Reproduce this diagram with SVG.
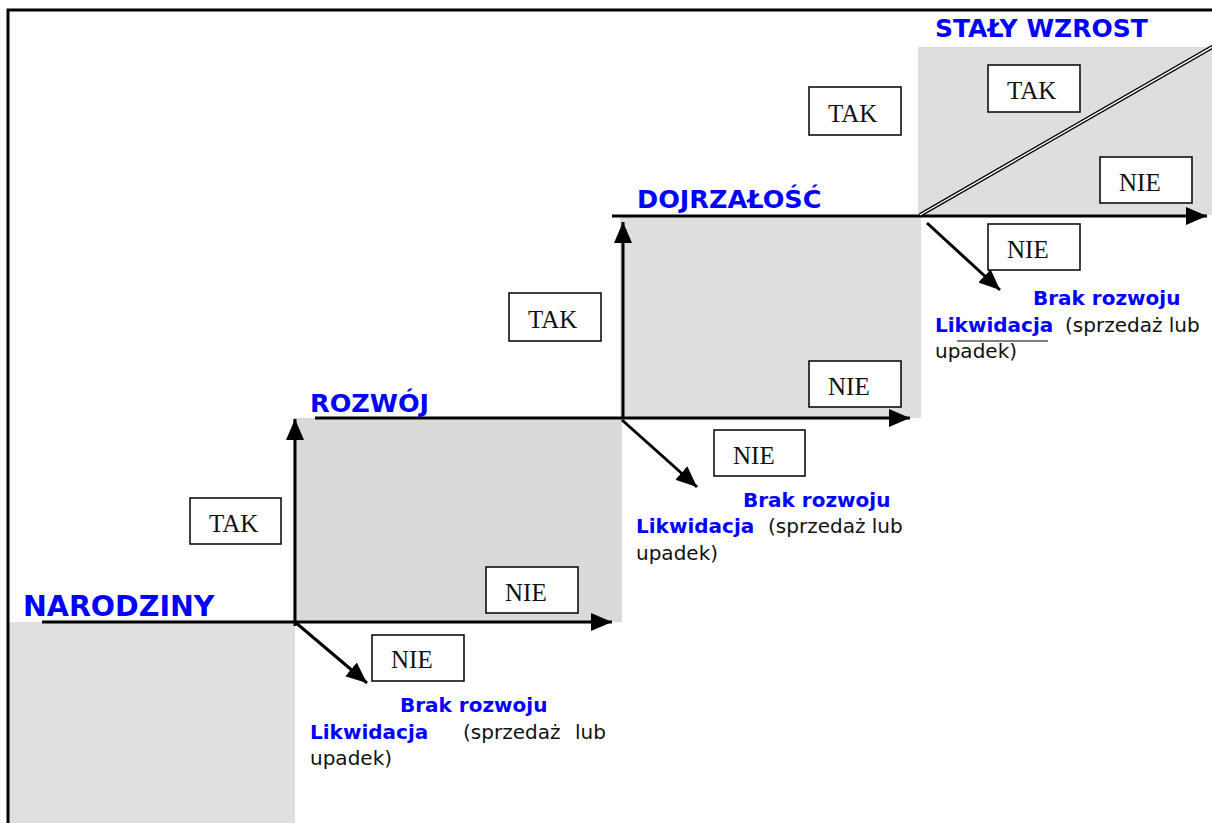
<svg xmlns="http://www.w3.org/2000/svg" width="1212" height="823" viewBox="0 0 1212 823">
  <style>
    .stage { font-family: "DejaVu Sans", Verdana, sans-serif; font-weight: bold; fill: #0000ff; }
    .box rect { fill: #ffffff; stroke: #000000; stroke-width: 1.5; }
    .box text { font-family: "Liberation Serif", "Times New Roman", serif; font-size: 25px; fill: #111111; }
    .note { font-family: "DejaVu Sans", Verdana, sans-serif; font-size: 20px; fill: #111111; }
    .note .hl { font-weight: bold; fill: #0000ff; }
    .conn { stroke: #000000; stroke-width: 3; fill: none; }
  </style>
  <defs>
    <marker id="head" markerUnits="userSpaceOnUse" markerWidth="22" markerHeight="18" refX="21" refY="9" orient="auto">
      <path d="M0,0 L21,9 L0,18 Z" fill="#000000"/>
    </marker>
  </defs>

  <rect width="1212" height="823" fill="#ffffff"/>

  <!-- shaded steps -->
  <g id="steps">
    <rect x="9" y="622" width="286" height="201" fill="#dfdfdf"/>
    <rect x="293" y="418" width="329" height="204" fill="#d9d9d9"/>
    <rect x="620" y="215" width="301" height="203" fill="#dedede"/>
    <rect x="918" y="47" width="294" height="168" fill="#dedede"/>
  </g>

  <!-- frame -->
  <path d="M8,823 V10 H1212" fill="none" stroke="#000000" stroke-width="3"/>

  <!-- connectors -->
  <g id="connectors">
    <line class="conn" x1="42" y1="622" x2="612" y2="622" marker-end="url(#head)"/>
    <line class="conn" x1="295" y1="626" x2="295" y2="419" marker-end="url(#head)"/>
    <line class="conn" x1="295" y1="622" x2="367" y2="683" marker-end="url(#head)"/>

    <line class="conn" x1="315" y1="418" x2="910" y2="418" marker-end="url(#head)"/>
    <line class="conn" x1="623" y1="418" x2="623" y2="222" marker-end="url(#head)"/>
    <line class="conn" x1="622" y1="420" x2="697" y2="487" marker-end="url(#head)"/>

    <line class="conn" x1="612" y1="216" x2="1207" y2="216" marker-end="url(#head)"/>
    <line class="conn" x1="927" y1="223" x2="1000" y2="290" marker-end="url(#head)"/>

    <line x1="920" y1="215" x2="1214" y2="46" stroke="#000000" stroke-width="4"/>
    <line x1="920" y1="215" x2="1214" y2="46" stroke="#ffffff" stroke-width="1.4"/>
  </g>

  <!-- stage labels -->
  <g id="narodziny"><text class="stage" x="23" y="616" font-size="28.5">NARODZINY</text></g>
  <g id="rozwoj"><text class="stage" x="310" y="412" font-size="25.5">ROZWÓJ</text></g>
  <g id="dojrzalosc"><text class="stage" x="637" y="208" font-size="25.5">DOJRZAŁOŚĆ</text></g>
  <g id="staly-wzrost"><text class="stage" x="935" y="37" font-size="25">STAŁY WZROST</text></g>

  <!-- decision boxes -->
  <g id="tak-1" class="box"><rect x="190" y="498" width="91" height="46"/><text x="209" y="532">TAK</text></g>
  <g id="nie-1" class="box"><rect x="486" y="567" width="92" height="46"/><text x="505" y="601">NIE</text></g>
  <g id="nie-1b" class="box"><rect x="372" y="635" width="92" height="46"/><text x="391" y="668">NIE</text></g>

  <g id="tak-2" class="box"><rect x="509" y="293" width="92" height="48"/><text x="528" y="328">TAK</text></g>
  <g id="nie-2" class="box"><rect x="809" y="361" width="92" height="46"/><text x="828" y="395">NIE</text></g>
  <g id="nie-2b" class="box"><rect x="714" y="430" width="91" height="46"/><text x="733" y="464">NIE</text></g>

  <g id="tak-3" class="box"><rect x="809" y="87" width="92" height="48"/><text x="828" y="122">TAK</text></g>
  <g id="nie-3b" class="box"><rect x="988" y="224" width="92" height="46"/><text x="1007" y="258">NIE</text></g>

  <g id="tak-4" class="box"><rect x="988" y="65" width="92" height="47"/><text x="1007" y="99">TAK</text></g>
  <g id="nie-4" class="box"><rect x="1100" y="157" width="92" height="46"/><text x="1119" y="191">NIE</text></g>

  <!-- outcome notes -->
  <g id="wynik-1">
    <text class="note"><tspan class="hl" x="400" y="712">Brak rozwoju</tspan></text>
    <text class="note"><tspan class="hl" x="310" y="739">Likwidacja</tspan><tspan x="463">(sprzedaż</tspan><tspan x="606" text-anchor="end">lub</tspan></text>
    <text class="note" x="310" y="765">upadek)</text>
  </g>
  <g id="wynik-2">
    <text class="note"><tspan class="hl" x="743" y="507">Brak rozwoju</tspan></text>
    <text class="note"><tspan class="hl" x="636" y="533">Likwidacja</tspan><tspan x="768">(sprzedaż lub</tspan></text>
    <text class="note" x="636" y="560">upadek)</text>
  </g>
  <g id="wynik-3">
    <text class="note"><tspan class="hl" x="1033" y="305">Brak rozwoju</tspan></text>
    <text class="note"><tspan class="hl" x="935" y="332">Likwidacja</tspan><tspan x="1065">(sprzedaż lub</tspan></text>
    <line x1="957" y1="341" x2="1048" y2="341" stroke="#000000" stroke-width="1"/>
    <text class="note" x="935" y="358">upadek)</text>
  </g>
</svg>
